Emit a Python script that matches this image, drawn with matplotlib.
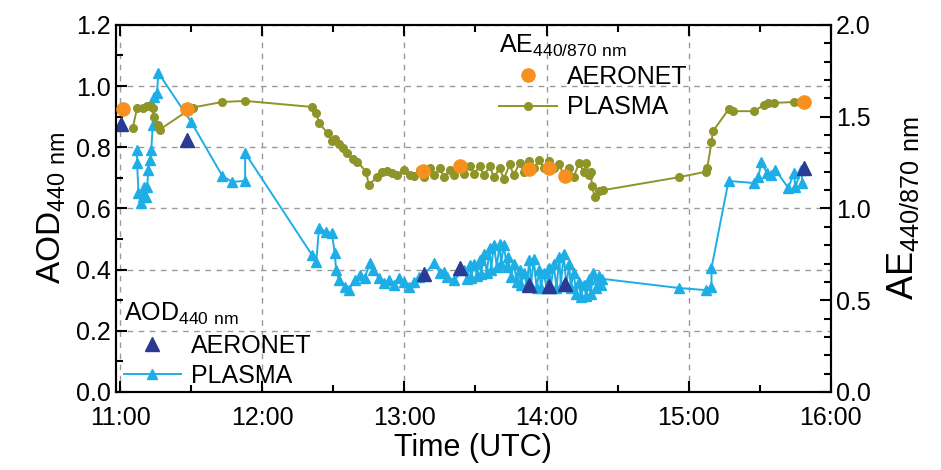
import numpy as np
import matplotlib
matplotlib.use("Agg")
import matplotlib.pyplot as plt
from matplotlib.ticker import MultipleLocator, FuncFormatter

plt.rcParams['font.family'] = ['Liberation Sans', 'DejaVu Sans']
plt.rcParams['mathtext.default'] = 'regular'

# times in decimal hours (UTC)
aod_aeronet_t = [11.01, 11.47, 13.14, 13.39, 13.88, 14.02, 14.13, 15.81]
aod_aeronet = [0.876, 0.824, 0.385, 0.405, 0.350, 0.347, 0.352, 0.732]

ae_aeronet_t = [11.02, 11.47, 13.13, 13.39, 13.88, 14.02, 14.13, 15.81]
ae_aeronet = [1.542, 1.542, 1.204, 1.232, 1.215, 1.221, 1.177, 1.580]

aod_plasma_t = [11.12, 11.12, 11.13, 11.15, 11.16, 11.17, 11.18, 11.19, 11.20, 11.21,
                11.22, 11.23, 11.24, 11.26, 11.27, 11.50, 11.72, 11.79, 11.88, 11.88,
                12.35, 12.38, 12.40, 12.45, 12.49, 12.51, 12.52, 12.54, 12.58, 12.61,
                12.65, 12.69, 12.72, 12.76, 12.78, 12.82, 12.86, 12.89, 12.93, 12.96,
                13.0, 13.03, 13.07, 13.10, 13.14, 13.21, 13.25, 13.28, 13.30, 13.35,
                13.42, 13.44, 13.46, 13.47, 13.49, 13.51, 13.53, 13.54, 13.56, 13.58,
                13.60, 13.61, 13.63, 13.65, 13.67, 13.68, 13.70, 13.72, 13.73, 13.75,
                13.77, 13.79, 13.81, 13.82, 13.84, 13.86, 13.88, 13.89, 13.91, 13.93,
                13.95, 13.96, 13.98, 14.00, 14.02, 14.03, 14.05, 14.07, 14.09, 14.10,
                14.12, 14.14, 14.16, 14.17, 14.19, 14.21, 14.23, 14.24, 14.26, 14.28,
                14.30, 14.31, 14.33, 14.35, 14.37, 14.38, 14.39,
                14.93, 15.12, 15.16, 15.16, 15.28, 15.46, 15.49, 15.51, 15.55,
                15.58, 15.61, 15.70, 15.74, 15.75, 15.79, 15.80]
aod_plasma = [0.791, 0.749, 0.651, 0.618, 0.638, 0.670, 0.638, 0.670, 0.726, 0.759,
              0.791, 0.873, 0.965, 0.978, 1.043, 0.883, 0.706, 0.687, 0.690, 0.781,
              0.448, 0.425, 0.536, 0.523, 0.520, 0.454, 0.399, 0.366, 0.343, 0.333,
              0.366, 0.383, 0.373, 0.422, 0.399, 0.373, 0.356, 0.366, 0.350, 0.373,
              0.360, 0.343, 0.360, 0.376, 0.385, 0.422, 0.389, 0.392, 0.376, 0.366,
              0.400, 0.370, 0.415, 0.373, 0.420, 0.380, 0.430, 0.385, 0.450, 0.390,
              0.470, 0.400, 0.480, 0.410, 0.485, 0.420, 0.480, 0.410, 0.440, 0.375,
              0.420, 0.360, 0.400, 0.350, 0.390, 0.350, 0.430, 0.345, 0.435, 0.340,
              0.400, 0.340, 0.390, 0.340, 0.405, 0.340, 0.420, 0.340, 0.440, 0.345,
              0.450, 0.350, 0.420, 0.340, 0.390, 0.320, 0.360, 0.310, 0.350, 0.315,
              0.370, 0.320, 0.390, 0.340, 0.380, 0.350, 0.370,
              0.340, 0.333, 0.343, 0.405, 0.690, 0.683, 0.703, 0.752, 0.716,
              0.709, 0.726, 0.667, 0.716, 0.670, 0.726, 0.683]

ae_plasma_t = [11.09, 11.12, 11.16, 11.19, 11.21, 11.23, 11.24, 11.27, 11.28, 11.51,
               11.72, 11.88, 12.35, 12.38, 12.40, 12.46, 12.49, 12.51, 12.54, 12.57,
               12.60, 12.64, 12.67, 12.73, 12.75, 12.81, 12.84, 12.88, 12.91, 12.95,
               13.0, 13.04, 13.07,
               13.11, 13.14, 13.18, 13.21, 13.25, 13.28, 13.32, 13.35, 13.39, 13.42,
               13.46, 13.49, 13.53, 13.56, 13.60, 13.63, 13.67, 13.70, 13.74, 13.77,
               13.81, 13.84, 13.88, 13.91, 13.95, 13.98, 14.02, 14.05, 14.09, 14.12,
               14.16, 14.19, 14.23, 14.26, 14.28, 14.30, 14.31, 14.32, 14.34, 14.37,
               14.40, 14.93, 15.12, 15.13, 15.16, 15.17, 15.28,
               15.31, 15.46, 15.53, 15.56, 15.60, 15.74, 15.78]
ae_plasma = [1.439, 1.548, 1.550, 1.560, 1.560, 1.545, 1.500, 1.455, 1.430, 1.550,
             1.580, 1.586, 1.553, 1.520, 1.466, 1.410, 1.370, 1.380, 1.350, 1.330,
             1.300, 1.270, 1.255, 1.200, 1.130, 1.170, 1.200, 1.205, 1.195, 1.180,
             1.210, 1.180, 1.175,
             1.210, 1.170, 1.220, 1.180, 1.220, 1.170, 1.210, 1.180, 1.220, 1.190,
             1.230, 1.190, 1.230, 1.180, 1.230, 1.170, 1.220, 1.160, 1.240, 1.180,
             1.250, 1.200, 1.260, 1.220, 1.265, 1.220, 1.260, 1.220, 1.240, 1.180,
             1.220, 1.170, 1.250, 1.200, 1.250, 1.180, 1.200, 1.120, 1.060, 1.095,
             1.100, 1.170, 1.200, 1.220, 1.360, 1.420, 1.540,
             1.530, 1.530, 1.565, 1.575, 1.575, 1.580, 1.580]

hours = [11, 12, 13, 14, 15, 16]

cyan = '#1EAEE6'
navy = '#2B3A92'
olive = '#8E9428'
orange = '#F7901E'

fig = plt.figure(figsize=(9.41, 4.70), dpi=100)
ax = fig.add_axes([0.123, 0.166, 0.760, 0.781])
ax2 = ax.twinx()

ax.plot(aod_plasma_t, aod_plasma, '-^', color=cyan, lw=1.4, ms=7, label='PLASMA', zorder=3)
ax.plot(aod_aeronet_t, aod_aeronet, '^', color=navy, ms=9.5, ls='none', label='AERONET', zorder=4)

ax2.plot(ae_plasma_t, ae_plasma, '-o', color=olive, lw=1.4, ms=5.5, label='PLASMA', zorder=3)
ax2.plot(ae_aeronet_t, ae_aeronet, 'o', color=orange, ms=9.5, ls='none', label='AERONET', zorder=4)

ax.set_xlim(10.97, 16.0)
ax.set_ylim(0, 1.2)
ax2.set_ylim(0, 2.0)

ax.set_xticks(hours)
ax.xaxis.set_major_formatter(FuncFormatter(lambda v, p: '%d:00' % round(v)))
ax.xaxis.set_minor_locator(MultipleLocator(0.5))
ax.yaxis.set_major_locator(MultipleLocator(0.2))
ax.yaxis.set_minor_locator(MultipleLocator(0.1))
ax.yaxis.set_major_formatter(FuncFormatter(lambda v, p: '%.1f' % v))
ax2.yaxis.set_major_locator(MultipleLocator(0.5))
ax2.yaxis.set_minor_locator(MultipleLocator(0.1))
ax2.yaxis.set_major_formatter(FuncFormatter(lambda v, p: '%.1f' % v))

ax.tick_params(which='both', direction='in', top=True, right=False, labelsize=18, width=1.5)
ax.tick_params(which='major', length=8)
ax.tick_params(which='minor', length=5)
ax.tick_params(axis='x', pad=10)
ax2.tick_params(which='both', direction='in', labelsize=18, width=1.5)
ax2.tick_params(which='major', length=8)
ax2.tick_params(which='minor', length=5)
for a in (ax, ax2):
    for s in a.spines.values():
        s.set_linewidth(1.5)

ax.grid(True, which='major', ls=(0, (4, 4)), color='#9a9a9a', lw=1.0)

ax.set_xlabel('Time (UTC)', fontsize=22, labelpad=2)
ax.set_ylabel('AOD$_{440\\ nm}$', fontsize=24, labelpad=6)
ax2.set_ylabel('AE$_{440/870\\ nm}$', fontsize=26, labelpad=10)

h1, l1 = ax.get_legend_handles_labels()
ax.legend(h1[::-1], l1[::-1], title='AOD$_{440\\ nm}$', loc='lower left',
          bbox_to_anchor=(-0.01, -0.03), frameon=False, fontsize=18,
          title_fontsize=18, handlelength=2.3, handletextpad=0.4,
          labelspacing=0.25, alignment='left', borderaxespad=0.2)

h2, l2 = ax2.get_legend_handles_labels()
ax2.legend(h2[::-1], l2[::-1], title='AE$_{440/870\\ nm}$', loc='upper left',
           bbox_to_anchor=(0.515, 1.02), frameon=False, fontsize=18,
           title_fontsize=18, handlelength=2.3, handletextpad=0.4,
           labelspacing=0.25, alignment='left', borderaxespad=0.2)

fig.savefig('out.png', dpi=100)
